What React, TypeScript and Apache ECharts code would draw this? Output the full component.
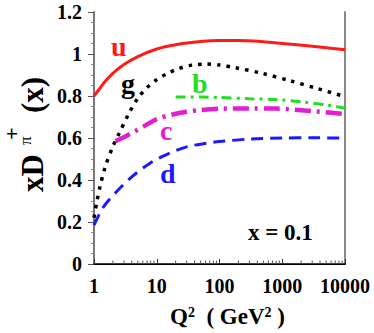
import React, { useEffect, useRef } from "react";
import * as echarts from "echarts";

const X_TICKS = [1, 10, 100, 1000, 10000];
const Y_TICKS = [0, 0.2, 0.4, 0.6, 0.8, 1, 1.2];
const MINOR_MULT = [2, 3, 4, 5, 6, 7, 8, 9];
const DECADES = [1, 10, 100, 1000];

const Q2_U = [1, 1.25, 1.5, 2, 3, 5, 10, 20, 50, 100, 200, 500, 1000, 3000, 10000];
const U = [0.8, 0.838, 0.869, 0.908, 0.95, 0.988, 1.024, 1.044, 1.059, 1.064, 1.064, 1.058, 1.05, 1.037, 1.02];

const Q2_G = [1, 1.1, 1.25, 1.5, 2, 2.5, 3.5, 5, 7, 10, 15, 22, 36, 62, 100, 177, 480, 1320, 3500, 10000];
const G = [0.22, 0.29, 0.37, 0.46, 0.56, 0.62, 0.71, 0.79, 0.84, 0.878, 0.908, 0.93, 0.947, 0.952, 0.948, 0.935, 0.908, 0.873, 0.837, 0.797];

const Q2_B = [20, 50, 100, 300, 800, 2000, 5000, 10000];
const B = [0.795, 0.795, 0.793, 0.787, 0.783, 0.772, 0.758, 0.742];

const Q2_C = [2.2, 3.1, 4.5, 6.1, 10, 18, 30, 50, 100, 300, 800, 3000, 10000];
const C = [0.585, 0.606, 0.632, 0.654, 0.69, 0.712, 0.725, 0.733, 0.739, 0.741, 0.74, 0.728, 0.714];

const Q2_D = [1, 1.4, 2.3, 4, 7.8, 14, 30, 62, 100, 300, 1000, 3000, 10000];
const D = [0.185, 0.27, 0.345, 0.415, 0.48, 0.52, 0.558, 0.575, 0.583, 0.595, 0.6, 0.601, 0.599];

const SERIF = '"Liberation Serif", "Times New Roman", serif';

const pairs = (xs: number[], ys: number[]) => xs.map((x, i) => [x, ys[i]]);

export default function App() {
  const ref = useRef<HTMLDivElement>(null);
  useEffect(() => {
    if (!ref.current) return;
    const chart = echarts.init(ref.current, undefined, { renderer: "svg" });
    const minorX: number[][] = [];
    DECADES.forEach((d) => MINOR_MULT.forEach((m) => minorX.push([d * m, 0])));

    const lineSeries = (name: string, data: number[][], color: string, width: number, type: any) => ({
      name,
      type: "line",
      data,
      smooth: 0.3,
      showSymbol: false,
      symbol: "none",
      lineStyle: { color, width, type, cap: "butt" },
      z: 3,
    });

    chart.setOption({
      animation: false,
      backgroundColor: "#fff",
      grid: { left: 94, right: 29, top: 12, bottom: 69, show: false },
      xAxis: [
        {
          type: "log",
          logBase: 10,
          min: 1,
          max: 10000,
          axisLine: { show: true, lineStyle: { color: "#000", width: 1.5 } },
          axisTick: { show: true, inside: true, length: 5, lineStyle: { color: "#333" } },
          splitLine: { show: false },
          axisLabel: {
            margin: 12,
            color: "#000",
            fontFamily: SERIF,
            fontWeight: "bold",
            fontSize: 20,
            formatter: (v: number) => String(Math.round(v)),
          },
        },
        {
          type: "log",
          logBase: 10,
          min: 1,
          max: 10000,
          position: "top",
          axisLine: { show: true, lineStyle: { color: "#000", width: 1 } },
          axisTick: { show: false },
          axisLabel: { show: false },
          splitLine: { show: false },
        },
      ],
      yAxis: [
        {
          type: "value",
          min: 0,
          max: 1.2,
          interval: 0.2,
          axisLine: { show: true, lineStyle: { color: "#777", width: 2 } },
          axisTick: { show: true, length: 6, lineStyle: { color: "#555" } },
          minorTick: { show: true, splitNumber: 4, length: 3, lineStyle: { color: "#888" } },
          splitLine: { show: false },
          axisLabel: {
            margin: 12,
            color: "#000",
            fontFamily: SERIF,
            fontWeight: "bold",
            fontSize: 20,
            formatter: (v: number) => String(Math.round(v * 10) / 10),
          },
        },
        {
          type: "value",
          min: 0,
          max: 1.2,
          interval: 0.2,
          position: "right",
          axisLine: { show: true, lineStyle: { color: "#888", width: 2 } },
          axisTick: { show: false },
          axisLabel: { show: false },
          splitLine: { show: false },
        },
      ],
      series: [
        lineSeries("u", pairs(Q2_U, U), "#ff1a1a", 3, "solid"),
        lineSeries("g", pairs(Q2_G, G), "#000", 3.5, [3.5, 6]),
        lineSeries("b", pairs(Q2_B, B), "#22dd22", 3, [10, 5, 3, 5]),
        lineSeries("c", pairs(Q2_C, C), "#e020d0", 4.5, [16, 6, 3, 6]),
        lineSeries("d", pairs(Q2_D, D), "#1a1aff", 3, [12, 7]),
        {
          type: "custom",
          silent: true,
          clip: false,
          z: 5,
          data: minorX,
          renderItem: (params: any, api: any) => {
            const p = api.coord([api.value(0), 0]);
            return {
              type: "line",
              shape: { x1: p[0], y1: p[1], x2: p[0], y2: p[1] - 3.5 },
              style: { stroke: "#555", lineWidth: 1 },
            };
          },
        },
      ],
      graphic: [
        { type: "text", left: 111, top: 32, style: { text: "u", fill: "#ff1a1a", font: `bold 28px ${SERIF}` } },
        { type: "text", left: 121, top: 69, style: { text: "g", fill: "#000", font: `bold 28px ${SERIF}` } },
        { type: "text", left: 192, top: 69, style: { text: "b", fill: "#22dd22", font: `bold 28px ${SERIF}` } },
        { type: "text", left: 160, top: 116, style: { text: "c", fill: "#e020d0", font: `bold 28px ${SERIF}` } },
        { type: "text", left: 160, top: 159, style: { text: "d", fill: "#1a1aff", font: `bold 28px ${SERIF}` } },
        { type: "text", left: 248, top: 221, style: { text: "x = 0.1", fill: "#000", font: `bold 23px ${SERIF}` } },
        {
          type: "text",
          left: 170,
          top: 305,
          style: {
            text: "{a|Q}{s|2}{a|  ( GeV}{s|2}{a| )}",
            fill: "#000",
            rich: {
              a: { fontFamily: SERIF, fontWeight: "bold", fontSize: 23, verticalAlign: "bottom" },
              s: { fontFamily: SERIF, fontWeight: "bold", fontSize: 14, verticalAlign: "top" },
            },
          },
        },
        {
          type: "group",
          x: 32,
          y: 192,
          rotation: Math.PI / 2,
          children: [
            { type: "text", x: 0, y: 0, style: { text: "xD", fill: "#000", font: `bold 31px ${SERIF}`, align: "left", verticalAlign: "middle" } },
            { type: "text", x: 47, y: -7, style: { text: "π", fill: "#000", font: `17px ${SERIF}`, align: "left", verticalAlign: "middle" } },
            { type: "text", x: 52, y: -21, style: { text: "+", fill: "#000", font: `bold 22px ${SERIF}`, align: "left", verticalAlign: "middle" } },
            { type: "text", x: 79, y: 0, style: { text: "(x)", fill: "#000", font: `bold 31px ${SERIF}`, align: "left", verticalAlign: "middle" } },
          ],
        },
      ],
    });
    return () => chart.dispose();
  }, []);
  return <div ref={ref} style={{ position: "fixed", left: 0, top: 0, width: 374, height: 333 }} />;
}
